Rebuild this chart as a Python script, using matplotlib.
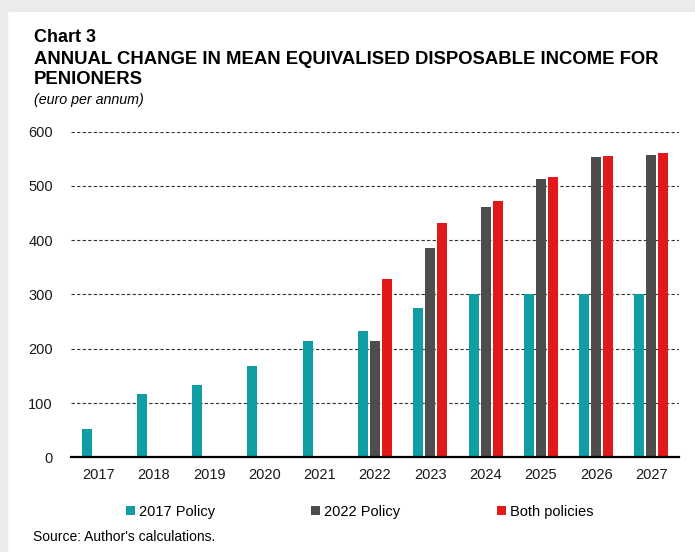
import numpy as np
import matplotlib.pyplot as plt
from matplotlib.patches import Rectangle

plt.rcParams['font.family'] = ['Liberation Sans', 'DejaVu Sans']

years = ["2017", "2018", "2019", "2020", "2021", "2022", "2023", "2024", "2025", "2026", "2027"]
policy_2017 = [52, 117, 133, 168, 215, 233, 275, 300, 300, 300, 300]
policy_2022 = [np.nan, np.nan, np.nan, np.nan, np.nan, 214, 386, 461, 513, 553, 557]
both_policies = [np.nan, np.nan, np.nan, np.nan, np.nan, 328, 431, 472, 517, 556, 560]

teal = "#0f9ea3"
grey = "#4d4d4d"
red = "#e2191b"

fig = plt.figure(figsize=(6.95, 5.52), dpi=100)
# grey frame at top and left
fig.patches.append(Rectangle((0, 1 - 11/552), 1, 11/552, transform=fig.transFigure, color="#ebebeb", zorder=0))
fig.patches.append(Rectangle((0, 0), 7/695, 1, transform=fig.transFigure, color="#ebebeb", zorder=0))

ax = fig.add_axes([71/695, 1 - 457.3/552, 608/695, (457.3 - 131.7)/552])

x = np.arange(len(years))
w = 0.18
off = 0.217
ax.bar(x - off, policy_2017, w, color=teal, label="2017 Policy", zorder=3)
ax.bar(x, policy_2022, w, color=grey, label="2022 Policy", zorder=3)
ax.bar(x + off, both_policies, w, color=red, label="Both policies", zorder=3)

ax.set_xlim(-0.5, len(years) - 0.5)
ax.set_ylim(0, 600)
ax.set_yticks(range(0, 601, 100))
ax.set_xticks(x)
ax.set_xticklabels(years)
ax.yaxis.grid(True, linestyle=(0, (3, 2)), color="#333333", linewidth=0.8)
ax.set_axisbelow(True)
for s in ("top", "right", "left"):
    ax.spines[s].set_visible(False)
ax.spines["bottom"].set_linewidth(1.6)
ax.spines["bottom"].set_zorder(4)
ax.tick_params(axis="both", length=0, labelsize=10.5, colors="#1a1a1a")
ax.tick_params(axis="y", pad=13)
ax.tick_params(axis="x", pad=8)

tx = 34/695
fig.text(tx, 1 - 37.5/552, "Chart 3", fontsize=13, fontweight="bold", va="center")
fig.text(tx, 1 - 59.5/552, "ANNUAL CHANGE IN MEAN EQUIVALISED DISPOSABLE INCOME FOR",
         fontsize=13.3, fontweight="bold", va="center")
fig.text(tx, 1 - 79.5/552, "PENIONERS", fontsize=13.3, fontweight="bold", va="center")
fig.text(tx, 1 - 100/552, "(euro per annum)", fontsize=10.3, style="italic", va="center")

fig.legend(loc="center left", bbox_to_anchor=(120/695, 1 - 512/552), ncol=3, frameon=False,
           fontsize=10.5, handlelength=0.6, handleheight=0.6, handletextpad=0.3,
           columnspacing=6.6, borderaxespad=0)

fig.text(33/695, 1 - 537/552, "Source: Author's calculations.", fontsize=10, va="center")

plt.savefig("out.png", facecolor="white")
